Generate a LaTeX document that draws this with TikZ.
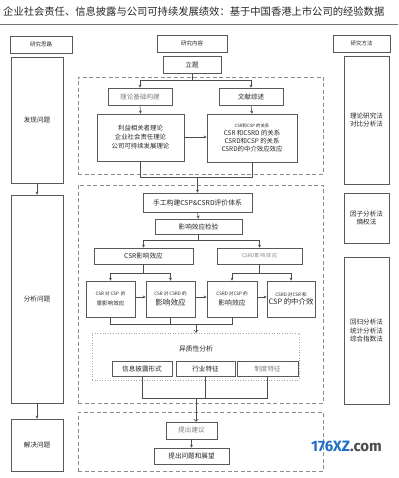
\documentclass[tikz,border=0pt]{standalone}
\usepackage{fontspec}
\setmainfont{Noto Sans CJK SC}
\newfontfamily\wmfont{Fira Sans}
\usetikzlibrary{arrows.meta}
\definecolor{wmblue}{HTML}{1F6FC8}
\begin{document}
\begin{tikzpicture}[x=1pt,y=-1pt,
  sz/.style 2 args={minimum width=#1pt, minimum height=#2pt},
  bx/.style={draw=black!65, line width=0.6pt, fill=white, inner sep=0pt, align=center,
             text=black!85, font=\fontsize{6.6}{8.5}\selectfont},
  gbx/.style={bx, text=black!50},
  hd/.style={bx, font=\fontsize{5.5}{6.5}\selectfont},
  grp/.style={draw=black!45, dash pattern=on 4pt off 2.5pt, line width=0.7pt, inner sep=0pt},
  arr/.style={-{Stealth[length=3pt,width=3pt]}, draw=black!70, line width=0.6pt},
  ln/.style={draw=black!70, line width=0.6pt},
  sm/.style={font=\fontsize{4.6}{5.5}\selectfont}]
\useasboundingbox (0,0) rectangle (398,478);
% title
\node[anchor=west, inner sep=0pt, font=\fontsize{10.3}{12}\selectfont, text=black!85] (title) at (3,12)
  {企业社会责任、信息披露与公司可持续发展绩效：基于中国香港上市公司的经验数据};
\coordinate (rl) at (0,24);
\coordinate (rr) at (398,24);
\draw[draw=black!55, line width=0.7pt] (rl) -- (rr);

% group boxes
\node[grp, sz={245}{97}] (g1) at (200.5,125.5) {};
\node[grp, sz={245}{218}] (g2) at (200.5,294) {};
\node[grp, sz={245}{59}] (g3) at (200.5,441.5) {};

% left column
\node[hd, sz={62}{17}] (sl) at (41,44.5) {研究思路};
\node[bx, sz={52}{126}] (fx) at (37,120) {发现问题};
\node[bx, sz={52}{208}] (fx2) at (37,299) {分析问题};
\node[bx, sz={52}{52}] (jj) at (37,445) {解决问题};
\draw[arr] (fx.south) -- (fx2.north);
\draw[arr] (fx2.south) -- (jj.north);

% right column
\node[hd, sz={57}{17}] (ff) at (361.5,43.5) {研究方法};
\node[bx, sz={45}{128}] (m1) at (366.5,120) {理论研究法\\对比分析法};
\node[bx, sz={45}{50}] (m2) at (366.5,218) {因子分析法\\熵权法};
\node[bx, sz={45}{147}] (m3) at (366.5,330.5) {回归分析法\\统计分析法\\综合指数法};

% middle column
\node[hd, sz={70}{17}] (nr) at (192,43.5) {研究内容};
\node[bx, sz={58}{17}] (lt) at (192,64.5) {立题};
\node[gbx, sz={64}{17}] (ll) at (140,96.5) {理论基础构建};
\node[bx, sz={64}{17}] (wx) at (251,96.5) {文献综述};
\node[bx, sz={87}{47}, font=\fontsize{6.4}{9}\selectfont] (lb) at (140.5,137.5)
  {利益相关者理论\\企业社会责任理论\\公司可持续发展理论};
\node[bx, sz={90}{48}, font=\fontsize{6.4}{8}\selectfont] (rb) at (252,138)
  {{\fontsize{4.4}{5}\selectfont CSR和CSP 的关系}\\CSR 和CSRD 的关系\\CSRD和CSP 的关系\\CSRD的中介效应效应};

\coordinate (j1) at (192,80);
\draw[ln] (lt.south) -- (j1);
\draw[arr] (j1) -| (ll.north);
\draw[arr] (j1) -| (wx.north);
\draw[arr] (ll.south) -- (lb.north);
\draw[arr] (wx.south) -- (rb.north);
\draw[arr] (lb.east |- 0,137) -- (rb.west |- 0,137);

\node[bx, sz={109}{19}, font=\fontsize{6.8}{8}\selectfont] (sg) at (197.5,202.5) {手工构建CSP\&CSRD评价体系};
\node[bx, sz={87}{15}] (yx) at (198.5,226.5) {影响效应检验};
\coordinate (j2) at (197.5,177);
\draw[ln] (lb.south) |- (j2);
\draw[ln] (rb.south) |- (j2);
\draw[arr] (j2) -- (sg.north);
\draw[arr] (sg.south) -- (yx.north);

\node[bx, sz={99}{16}] (csr) at (143.5,256) {CSR影响效应};
\node[gbx, sz={85}{16}, font=\fontsize{5}{6}\selectfont] (csrd) at (259.5,256) {CSRD影\,响\,效\,应};
\coordinate (j3) at (198.5,240);
\draw[ln] (yx.south) -- (j3);
\draw[arr] (j3) -| (csr.north);
\draw[arr] (j3) -| (csrd.north);

\node[bx, sz={49}{36}] (a) at (110.5,299) {{\fontsize{4.6}{5.5}\selectfont CSR 对 CSP\, 的}\\[2pt]{\fontsize{5.6}{6}\selectfont 景影响效应}};
\node[bx, sz={49}{36}] (b) at (170.5,299) {{\fontsize{4.6}{5.5}\selectfont CSR 对 CSRD 的}\\[1pt]{\fontsize{7.6}{8}\selectfont 影响效应}};
\node[bx, sz={50}{36}] (c) at (232,299) {{\fontsize{4.6}{5.5}\selectfont CSRD 对CSP 的}\\[1pt]{\fontsize{6.8}{8}\selectfont 影响效应}};
\node[bx, sz={48}{36}] (d) at (291,299) {{\fontsize{4.6}{5.5}\selectfont CSRD 对CSR 和}\\[0pt]{\fontsize{7.4}{8}\selectfont CSP 的中介效}};

\coordinate (j4a) at (143.5,273);
\coordinate (j4b) at (259.5,273);
\draw[ln] (csr.south) -- (j4a);
\draw[arr] (j4a) -| (a.north);
\draw[arr] (j4a) -| (b.north);
\draw[ln] (csrd.south) -- (j4b);
\draw[arr] (j4b) -| (c.north);
\draw[arr] (j4b) -| (d.north);
\draw[arr] (a.east |- 0,297) -- (b.west |- 0,297);
\draw[arr] (b.east |- 0,297) -- (c.west |- 0,297);
\draw[arr] (c.east |- 0,297) -- (d.west |- 0,297);

\node[draw=black!35, dotted, line width=0.6pt, inner sep=0pt, sz={207}{47}] (hz) at (195.5,356.5) {};
\node[inner sep=0pt, font=\fontsize{6.8}{8}\selectfont, text=black!85] (hzt) at (196,349) {异质性分析};
\coordinate (j5) at (196,324);
\draw[ln] (a.south) |- (j5);
\draw[ln] (c.south) |- (j5);
\draw[ln] (b.south) -- (b.south |- j5);
\draw[-{To[length=3pt,width=5pt]}, draw=black!70, line width=0.6pt] (j5) -- (j5 |- hz.north);

\node[bx, sz={60}{15}] (p1) at (142,368.5) {信息披露形式};
\node[bx, sz={59}{15}] (p2) at (205.5,368.5) {行业特征};
\node[gbx, sz={61}{15}] (p3) at (267.5,368.5) {制度特征};

\node[gbx, sz={51}{17}] (tj) at (191.5,430.5) {提出建议};
\node[bx, sz={75}{16}] (tw) at (191.5,456) {提出问题和展望};
\coordinate (j6) at (196,398);
\draw[ln] (p1.south) |- (j6);
\draw[ln] (p3.south) |- (j6);
\draw[ln] (p2.south) -- (p2.south |- j6);
\draw[-{To[length=3pt,width=5pt]}, draw=black!70, line width=0.6pt] (j6) -- (j6 |- tj.north);
\draw[arr] (tj.south) -- (tw.north);

% watermark
\node[anchor=west, inner sep=0pt, font=\wmfont\bfseries\fontsize{15}{16}\selectfont] (wm) at (311,446)
  {\textcolor{wmblue}{176XZ}\textcolor{black!70}{.com}};
\end{tikzpicture}
\end{document}
